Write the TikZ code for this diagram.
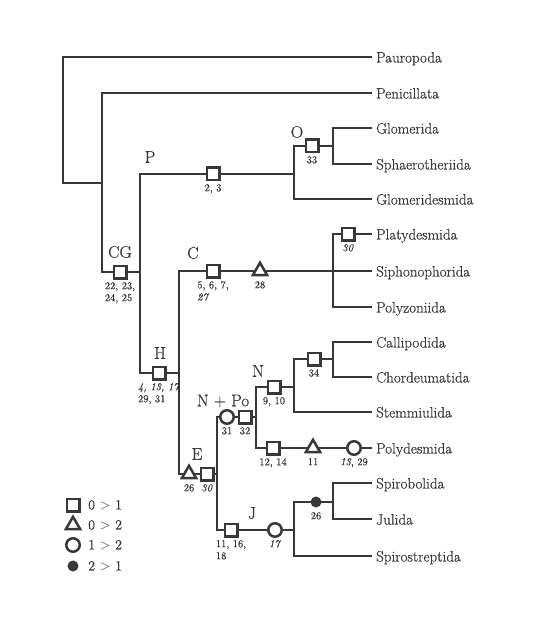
\documentclass[tikz,border=0pt]{standalone}
\usepackage{fontspec}
\setmainfont{Latin Modern Roman}[FakeBold=0.6]
\usepackage{tikz}
\usetikzlibrary{positioning,shapes.geometric}
\definecolor{trLine}{HTML}{383838}
\tikzset{
  branch/.style={line width=2.9pt, draw=trLine},
  taxon/.style={anchor=west, inner sep=4pt, text height=11pt, text depth=0pt,
    font=\fontsize{15}{17}\selectfont, text=trLine},
  clade/.style={font=\fontsize{17}{20}\selectfont, text=trLine},
  num/.style={font=\fontsize{10.5}{12}\selectfont, align=left, inner sep=0pt,
    anchor=north, text=trLine},
  legtext/.style={font=\fontsize{14}{16}\selectfont, anchor=west, inner sep=0pt, text=trLine},
  chmark/.style={draw=trLine, fill=white, line width=2.5pt, inner sep=0pt},
  sqmark/.style={chmark, minimum size=12.5pt},
  trimark/.style={chmark, regular polygon, regular polygon sides=3, minimum size=16.5pt},
  circmark/.style={chmark, circle, minimum size=13.5pt},
  dotmark/.style={circle, fill=trLine, minimum size=11pt, inner sep=0pt}
}
\begin{document}
\begin{tikzpicture}[x=1pt, y=-1pt]
  \useasboundingbox (0,0) rectangle (550,620);

  % taxa
  \foreach \nm/\lab/\yy in {
    pau/Pauropoda/57, pen/Penicillata/93, glo/Glomerida/128,
    sph/Sphaerotheriida/164, gmd/Glomeridesmida/199, pla/Platydesmida/234,
    sip/Siphonophorida/271, plz/Polyzoniida/307, cal/Callipodida/342,
    cho/Chordeumatida/377, stm/Stemmiulida/412, pld/Polydesmida/448,
    spb/Spirobolida/483, jul/Julida/519, sps/Spirostreptida/556}{
    \node[taxon] (\nm) at (372,\yy) {\lab};
  }

  % branch points
  \coordinate (root) at (63,183);
  \coordinate (a1) at (102,183);
  \coordinate (a2) at (140,272);
  \coordinate (a3) at (294,174);
  \coordinate (a4) at (179,373);
  \coordinate (a5) at (333,146);
  \coordinate (a6) at (333,271);
  \coordinate (a7) at (217,474);
  \coordinate (a8) at (256,417);
  \coordinate (a9) at (294,530);
  \coordinate (a10) at (294,387);
  \coordinate (a11) at (333,359);
  \coordinate (a12) at (333,502);

  % tree
  \draw[branch] (pau.west) -| (root) -- (a1);
  \draw[branch] (pen.west) -| (a1) |- (a2);
  \draw[branch] (a3) -| (a2) |- (a4);
  \draw[branch] (a5) -| (a3) |- (gmd.west);
  \draw[branch] (glo.west) -| (a5) |- (sph.west);
  \draw[branch] (a6) -| (a4) |- (a7);
  \draw[branch] (pla.west) -| (a6) |- (plz.west);
  \draw[branch] (sip.west) -- (a6);
  \draw[branch] (a8) -| (a7) |- (a9);
  \draw[branch] (a10) -| (a8) |- (pld.west);
  \draw[branch] (a11) -| (a10) |- (stm.west);
  \draw[branch] (cal.west) -| (a11) |- (cho.west);
  \draw[branch] (a12) -| (a9) |- (sps.west);
  \draw[branch] (spb.west) -| (a12) |- (jul.west);

  % character changes
  \foreach \nm/\shp/\xx/\yy/\txt in {
    mcg/sqmark/120/272/{22, 23,\\24, 25},
    mp/sqmark/213/174/{2, 3},
    mo/sqmark/312/146/{33},
    mc/sqmark/213/271/{5, 6, 7,\\\textit{27}},
    mct/trimark/260/271/{28},
    mpla/sqmark/348/234/{\textit{30}},
    mh/sqmark/159/373/{\textit{4, 13, 17}\\29, 31},
    met/trimark/189/474/{26},
    me/sqmark/207/474/{\textit{30}},
    mnpc/circmark/227/417/{31},
    mnp/sqmark/245/417/{32},
    mn/sqmark/274/387/{9, 10},
    mcal/sqmark/314/359/{34},
    mpld/sqmark/273/448/{12, 14},
    mpldt/trimark/313/448/{11},
    mpldc/circmark/354/448/{\textit{13}, 29},
    mj/sqmark/231/530/{11, 16,\\18},
    mjc/circmark/275/530/{\textit{17}},
    mspb/dotmark/316/502/{26}}{
    \node[\shp] (\nm) at (\xx,\yy) {};
    \node[num] (\nm-l) at ([yshift=-10pt]\nm.center) {\txt};
  }

  % clades
  \node[clade] (lcg) at (120,252) {CG};
  \node[clade] (lp) at (150,157) {P};
  \node[clade] (lo) at (297,132) {O};
  \node[clade] (lc) at (193,253) {C};
  \node[clade] (lh) at (160,353) {H};
  \node[clade] (le) at (197,454) {E};
  \node[clade] (lnp) at (223,401) {N + Po};
  \node[clade] (ln) at (258,371) {N};
  \node[clade] (lj) at (252,513) {J};

  % legend
  \foreach \nm/\shp/\yy/\txt in {
    lsq/sqmark/505/{0 $>$ 1}, ltri/trimark/525/{0 $>$ 2},
    lcir/circmark/545/{1 $>$ 2}, ldot/dotmark/566/{2 $>$ 1}}{
    \node[\shp] (\nm) at (73,\yy) {};
    \node[legtext] (\nm-t) at (88,\yy) {\txt};
  }
\end{tikzpicture}
\end{document}
